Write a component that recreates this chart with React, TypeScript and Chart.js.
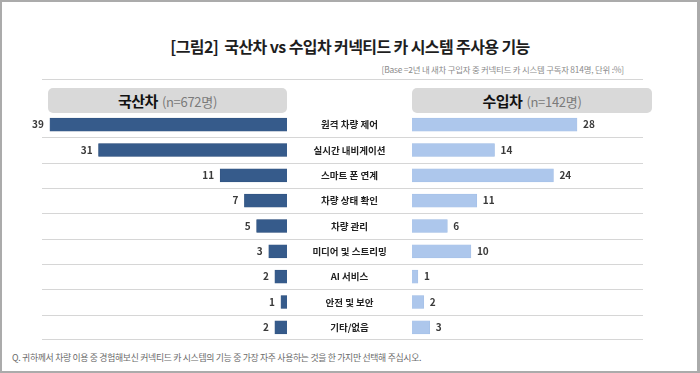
import React, { useEffect, useRef } from 'react';
import { Chart, registerables } from 'chart.js';
Chart.register(...registerables);

const categories = ['원격 차량 제어', '실시간 내비게이션', '스마트 폰 연계', '차량 상태 확인', '차량 관리', '미디어 및 스트리밍', 'AI 서비스', '안전 및 보안', '기타/없음'];
const domestic = [39, 31, 11, 7, 5, 3, 2, 1, 2];
const imported = [28, 14, 24, 11, 6, 10, 1, 2, 3];
const titleText = '[그림2]  국산차 vs 수입차 커넥티드 카 시스템 주사용 기능';
const baseText = '[Base =2년 내 새차 구입자 중 커넥티드 카 시스템 구독자 814명, 단위 :%]';
const leftHeader = ['국산차', '(n=672명)'];
const rightHeader = ['수입차', '(n=142명)'];
const footText = 'Q. 귀하께서 차량 이용 중 경험해보신 커넥티드 카 시스템의 기능 중 가장 자주 사용하는 것을 한 가지만 선택해 주십시오.';

const FONT = "'Noto Sans CJK KR', 'Noto Sans', sans-serif";
const SEP = '#d6d6d6';

function separators(fromCanvasLeft: boolean) {
  return {
    id: 'seps',
    beforeDatasetsDraw(chart: any) {
      const { ctx, chartArea } = chart;
      const y = chart.scales.y;
      const n = chart.data.labels.length;
      ctx.save();
      ctx.strokeStyle = SEP;
      ctx.lineWidth = 1;
      const x1 = fromCanvasLeft ? 0 : chartArea.left;
      const x2 = chartArea.right;
      for (let i = 0; i < n; i++) {
        const yy = i < n - 1 ? (y.getPixelForValue(i) + y.getPixelForValue(i + 1)) / 2 : chartArea.bottom - 1;
        const py = Math.round(yy) + 0.5;
        ctx.beginPath();
        ctx.moveTo(x1, py);
        ctx.lineTo(x2, py);
        ctx.stroke();
      }
      ctx.restore();
    },
  };
}

function valueLabels(side: 'left' | 'right') {
  return {
    id: 'vals',
    afterDatasetsDraw(chart: any) {
      const { ctx } = chart;
      const meta = chart.getDatasetMeta(0);
      const data = chart.data.datasets[0].data;
      ctx.save();
      ctx.font = `bold 10px ${FONT}`;
      ctx.fillStyle = '#3a3a3a';
      ctx.textBaseline = 'middle';
      meta.data.forEach((el: any, i: number) => {
        if (side === 'left') {
          ctx.textAlign = 'right';
          ctx.fillText(String(data[i]), el.x - 6, el.y);
        } else {
          ctx.textAlign = 'left';
          ctx.fillText(String(data[i]), el.x + 6, el.y);
        }
      });
      if (side === 'right') {
        const y = chart.scales.y;
        ctx.font = `bold 9.5px ${FONT}`;
        ctx.fillStyle = '#222';
        ctx.textAlign = 'center';
        chart.data.labels.forEach((lab: string, i: number) => {
          ctx.fillText(lab, chart.chartArea.left / 2, y.getPixelForValue(i));
        });
      }
      ctx.restore();
    },
  };
}

function baseOptions(reverse: boolean, max: number, padding: any) {
  return {
    indexAxis: 'y',
    responsive: false,
    maintainAspectRatio: false,
    animation: false,
    layout: { padding },
    scales: {
      x: { display: false, reverse, min: 0, max },
      y: { display: false },
    },
    plugins: { legend: { display: false }, tooltip: { enabled: false } },
  } as any;
}

export default function App() {
  const leftRef = useRef<HTMLCanvasElement>(null);
  const rightRef = useRef<HTMLCanvasElement>(null);

  useEffect(() => {
    document.body.style.margin = '0';
    const left = new Chart(leftRef.current!, {
      type: 'bar',
      data: {
        labels: categories,
        datasets: [{ data: domestic, backgroundColor: '#365b8b', borderColor: '#2d4e7a', borderWidth: 0.5, barThickness: 13 }],
      },
      options: baseOptions(true, 40.3, { left: 42, right: 0, top: 0, bottom: 0 }),
      plugins: [separators(false), valueLabels('left')],
    } as any);
    const right = new Chart(rightRef.current!, {
      type: 'bar',
      data: {
        labels: categories,
        datasets: [{ data: imported, backgroundColor: '#adc7ec', borderColor: '#a0bce4', borderWidth: 0.5, barThickness: 13 }],
      },
      options: baseOptions(false, 39.2, { left: 125, right: 57, top: 0, bottom: 0 }),
      plugins: [separators(true), valueLabels('right')],
    } as any);
    return () => {
      left.destroy();
      right.destroy();
    };
  }, []);

  const header = (x: number, w: number, parts: string[]) => (
    <div
      style={{
        position: 'absolute', left: x, top: 86, width: w, height: 25, borderRadius: 5,
        background: '#d9d9d9', textAlign: 'center', lineHeight: '25px', whiteSpace: 'nowrap',
      }}
    >
      <span style={{ fontWeight: 700, fontSize: 15, color: '#111', letterSpacing: '-0.5px' }}>{parts[0]}</span>
      <span style={{ fontSize: 13, color: '#7a7a7a', marginLeft: 4, letterSpacing: '-0.3px' }}>{parts[1]}</span>
    </div>
  );

  return (
    <div
      style={{
        position: 'absolute', left: 0, top: 0, width: 700, height: 373, boxSizing: 'border-box',
        borderTop: '2px solid #ababab', borderLeft: '2px solid #ababab', borderRight: '3px solid #ababab',
        borderBottom: '2px solid #ababab', background: '#fff', fontFamily: FONT, overflow: 'hidden',
      }}
    >
      <div style={{ position: 'absolute', left: -2, top: 33, width: 700, lineHeight: '22px', textAlign: 'center', fontSize: 16, fontWeight: 700, color: '#1e1e1e', letterSpacing: '-0.6px', whiteSpace: 'pre' }}>
        {titleText}
      </div>
      <div style={{ position: 'absolute', right: 73, top: 60, lineHeight: '14px', fontSize: 8.4, color: '#8a8a8a', letterSpacing: '-0.2px', whiteSpace: 'nowrap' }}>
        {baseText}
      </div>
      <div style={{ position: 'absolute', left: 40, top: 77, width: 601, height: 1, background: SEP }} />
      {header(46, 239, leftHeader)}
      {header(410, 240, rightHeader)}
      <canvas ref={leftRef} width={287} height={228} style={{ position: 'absolute', left: -2, top: 110, display: 'block' }} />
      <canvas ref={rightRef} width={413} height={228} style={{ position: 'absolute', left: 285, top: 110, display: 'block' }} />
      <div style={{ position: 'absolute', left: 10, top: 348, lineHeight: '16px', fontSize: 8.85, color: '#6a6a6a', letterSpacing: '-0.3px', whiteSpace: 'nowrap' }}>
        {footText}
      </div>
    </div>
  );
}
